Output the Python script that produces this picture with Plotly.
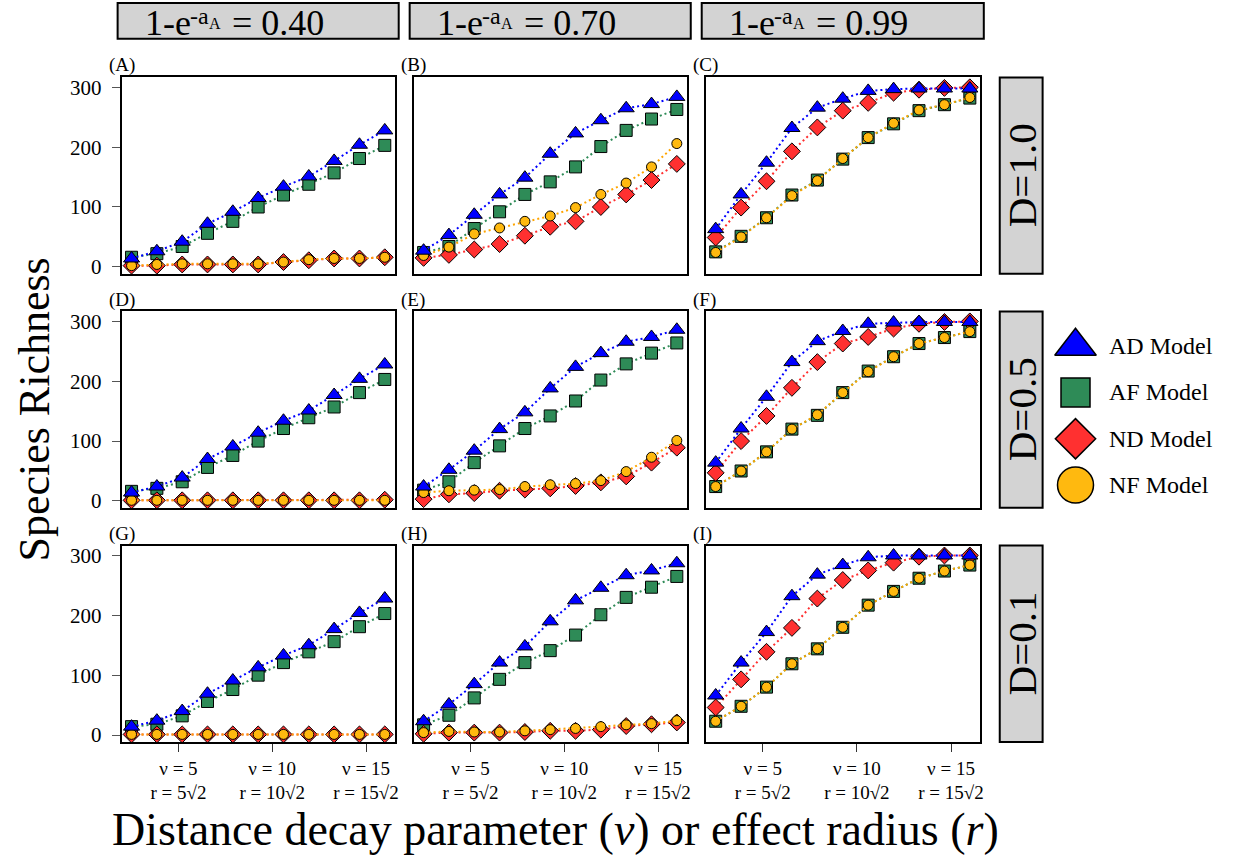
import plotly.graph_objects as go

W, H = 1234, 863

# ---------------- data ----------------
v_values = [2.5, 3.85, 5.2, 6.55, 7.9, 9.25, 10.6, 11.95, 13.3, 14.65, 16.0]
models = ["AD Model", "AF Model", "ND Model", "NF Model"]
survival_labels = ["0.40", "0.70", "0.99"]
dispersal_labels = ["1.0", "0.5", "0.1"]
panel_letters = ["A", "B", "C", "D", "E", "F", "G", "H", "I"]
x_tick_vals = [5, 10, 15]
x_tick_text = ["ν = 5<br>r = 5√2", "ν = 10<br>r = 10√2", "ν = 15<br>r = 15√2"]
y_tick_vals = [0, 100, 200, 300]

AD_A = [14, 26, 42, 72, 92, 115, 134, 151, 177, 204, 228]
AF_A = [16, 22, 34, 56, 76, 100, 120, 138, 157, 181, 203]
ND_A = [2, 2, 4, 4, 4, 4, 8, 11, 14, 14, 16]
NF_A = [2, 4, 5, 5, 5, 5, 8, 12, 14, 14, 16]

AD_B = [27, 53, 87, 121, 149, 189, 223, 245, 265, 272, 284]
AF_B = [24, 34, 64, 92, 121, 142, 167, 201, 228, 247, 263]
ND_B = [15, 20, 29, 38, 52, 67, 76, 100, 121, 145, 172]
NF_B = [19, 33, 55, 65, 76, 85, 99, 121, 140, 167, 206]

AD_C = [63, 121, 174, 232, 266, 281, 294, 297, 298, 298, 298]
AF_C = [25, 51, 82, 120, 145, 180, 216, 239, 261, 271, 282]
ND_C = [49, 99, 143, 193, 233, 261, 274, 291, 296, 299, 300]
NF_C = [24, 50, 82, 119, 144, 181, 216, 240, 262, 271, 283]

AD_D = [14, 24, 39, 70, 91, 114, 134, 151, 177, 204, 228]
AF_D = [16, 21, 32, 56, 76, 100, 121, 139, 157, 181, 203]
ND_D = [1, 1, 1, 1, 1, 1, 1, 1, 1, 1, 2]
NF_D = [1, 1, 1, 1, 1, 1, 1, 1, 1, 1, 1]

AD_E = [24, 52, 84, 120, 148, 188, 224, 247, 266, 274, 286]
AF_E = [18, 32, 64, 92, 121, 142, 167, 202, 229, 247, 264]
ND_E = [3, 11, 13, 17, 19, 21, 25, 31, 41, 64, 89]
NF_E = [14, 17, 18, 19, 24, 27, 29, 34, 49, 73, 101]

AD_F = [64, 121, 174, 232, 267, 284, 296, 298, 299, 299, 299]
AF_F = [24, 50, 82, 120, 143, 181, 217, 241, 263, 273, 283]
ND_F = [47, 100, 142, 189, 232, 263, 274, 288, 296, 299, 300]
NF_F = [24, 50, 82, 120, 144, 181, 216, 241, 263, 273, 283]

AD_G = [14, 24, 40, 69, 91, 113, 133, 150, 177, 204, 228]
AF_G = [14, 18, 32, 56, 76, 100, 121, 139, 156, 181, 203]
ND_G = [1, 1, 1, 1, 1, 1, 1, 1, 1, 1, 1]
NF_G = [1, 1, 1, 1, 1, 1, 1, 1, 1, 1, 1]

AD_H = [23, 51, 85, 121, 148, 190, 225, 246, 267, 275, 287]
AF_H = [17, 33, 62, 93, 121, 141, 167, 201, 230, 247, 265]
ND_H = [2, 4, 4, 4, 5, 7, 7, 9, 15, 18, 21]
NF_H = [4, 6, 5, 5, 7, 9, 11, 14, 17, 19, 24]

AD_I = [66, 121, 172, 232, 268, 284, 297, 300, 300, 300, 300]
AF_I = [23, 48, 80, 119, 144, 180, 217, 240, 262, 274, 284]
ND_I = [46, 93, 139, 179, 228, 259, 275, 288, 298, 300, 300]
NF_I = [23, 48, 80, 119, 144, 180, 217, 240, 262, 274, 284]

panels = [
    (AD_A, AF_A, ND_A, NF_A), (AD_B, AF_B, ND_B, NF_B), (AD_C, AF_C, ND_C, NF_C),
    (AD_D, AF_D, ND_D, NF_D), (AD_E, AF_E, ND_E, NF_E), (AD_F, AF_F, ND_F, NF_F),
    (AD_G, AF_G, ND_G, NF_G), (AD_H, AF_H, ND_H, NF_H), (AD_I, AF_I, ND_I, NF_I),
]

# ---------------- styles ----------------
style = {
    "AD Model": dict(symbol="triangle-up", fill="#0000FF", line="#0000FF", size=14, lsize=36),
    "AF Model": dict(symbol="square", fill="#2E8B57", line="#2E8B57", size=12, lsize=29),
    "ND Model": dict(symbol="diamond", fill="#FF3030", line="#FF3030", size=13, lsize=31),
    "NF Model": dict(symbol="circle", fill="#FFB90F", line="#FFA500", size=10, lsize=36),
}
draw_order = ["AF Model", "ND Model", "NF Model", "AD Model"]

SERIF = "Liberation Serif"

col_px = [(122, 396), (415, 689), (708, 983)]
row_px = [(76, 274), (312, 510), (548, 746)]


def px_x(p):
    return p / W


def px_y(p):
    return 1 - p / H


fig = go.Figure()
layout = dict(
    width=W, height=H, margin=dict(l=0, r=0, t=0, b=0),
    paper_bgcolor="white", plot_bgcolor="white", showlegend=False,
    font=dict(family=SERIF, color="black"),
)
annotations = []
shapes = []

for k in range(9):
    r, c = divmod(k, 3)
    suffix = "" if k == 0 else str(k + 1)
    xa, ya = "x" + suffix, "y" + suffix
    vals = dict(zip(models, panels[k]))
    for m in draw_order:
        s = style[m]
        fig.add_trace(go.Scatter(
            x=v_values, y=vals[m], mode="lines+markers", name=m,
            xaxis=xa, yaxis=ya, cliponaxis=False,
            line=dict(color=s["line"], width=2, dash="2px,3px"),
            marker=dict(symbol=s["symbol"], size=s["size"], color=s["fill"],
                        line=dict(color="black", width=1)),
        ))
    bottom = r == 2
    left = c == 0
    xdict = dict(
        domain=[px_x(col_px[c][0]), px_x(col_px[c][1])],
        anchor=ya, range=[1.97, 16.53], showgrid=False, zeroline=False,
        showline=True, mirror=True, linecolor="black", linewidth=2,
        tickvals=x_tick_vals, showticklabels=bottom,
        ticks="outside" if bottom else "",
        ticklen=8, tickwidth=1.2, tickcolor="#333333",
        tickfont=dict(family=SERIF, size=19, color="black"),
    )
    if bottom:
        xdict["ticktext"] = x_tick_text
    layout["xaxis" + suffix] = xdict
    layout["yaxis" + suffix] = dict(
        domain=[px_y(row_px[r][1]), px_y(row_px[r][0])],
        anchor=xa, range=[-11.6, 316.6], showgrid=False, zeroline=False,
        showline=True, mirror=True, linecolor="black", linewidth=2,
        tickvals=y_tick_vals, showticklabels=left,
        ticks="outside" if left else "", ticklen=8, tickwidth=1.2,
        tickcolor="#555555", ticklabelstandoff=6,
        tickfont=dict(family=SERIF, size=21, color="black"),
    )
    annotations.append(dict(
        text="(" + panel_letters[k] + ")", xref="paper", yref="paper",
        x=px_x(col_px[c][0] - 15), y=px_y(row_px[r][0] - 12),
        xanchor="left", yanchor="middle", showarrow=False,
        font=dict(family=SERIF, size=19, color="black"),
    ))


def top_text(text, x_px, top_px, size):
    return dict(text=text, xref="paper", yref="paper", x=px_x(x_px), y=px_y(top_px),
                xanchor="left", yanchor="top", showarrow=False, borderpad=0,
                font=dict(family=SERIF, size=size, color="black"))


# top strips: 1-e^(-a_A) = value, built from pieces so the exponent sits high
for c in range(3):
    x0, x1 = col_px[c][0] - 4, col_px[c][1] + 4
    shapes.append(dict(type="rect", xref="paper", yref="paper",
                       x0=px_x(x0), x1=px_x(x1), y0=px_y(37), y1=px_y(1),
                       fillcolor="#D3D3D3", line=dict(color="black", width=2)))
    t0 = x0 + 26
    annotations.append(top_text("1-e", t0, 0, 36))
    annotations.append(top_text("-a", t0 + 46, 0, 24))
    annotations.append(top_text("A", t0 + 65, 12, 16))
    annotations.append(top_text("= " + survival_labels[c], t0 + 88, 0, 36))

# right strips
for r in range(3):
    shapes.append(dict(type="rect", xref="paper", yref="paper",
                       x0=px_x(1003), x1=px_x(1046),
                       y0=px_y(row_px[r][1]), y1=px_y(row_px[r][0]),
                       fillcolor="#D3D3D3", line=dict(color="black", width=2)))
    annotations.append(dict(
        text="D=" + dispersal_labels[r], textangle=-90,
        xref="paper", yref="paper", x=px_x(1025),
        y=px_y((row_px[r][0] + row_px[r][1]) / 2),
        xanchor="center", yanchor="middle", showarrow=False,
        font=dict(family=SERIF, size=41, color="black"),
    ))

# axis titles
annotations.append(dict(
    text="Species Richness", textangle=-90, xref="paper", yref="paper",
    x=px_x(35), y=px_y(411), xanchor="center", yanchor="middle", showarrow=False,
    font=dict(family=SERIF, size=44, color="black"),
))
annotations.append(dict(
    text="Distance decay parameter (<i>v</i>) or effect radius (<i>r</i>)",
    xref="paper", yref="paper", x=px_x(557), y=px_y(861),
    xanchor="center", yanchor="bottom", showarrow=False, borderpad=0,
    font=dict(family=SERIF, size=46, color="black"),
))

# legend panel (own small axis)
for i, m in enumerate(models):
    s = style[m]
    fig.add_trace(go.Scatter(
        x=[0], y=[m], mode="markers", xaxis="x10", yaxis="y10",
        cliponaxis=False, hoverinfo="skip",
        marker=dict(symbol=s["symbol"], size=s["lsize"], color=s["fill"],
                    line=dict(color="black", width=1.5)),
    ))
    annotations.append(dict(
        text=m, xref="paper", yref="y10", x=px_x(1111), y=i,
        xanchor="left", yanchor="middle", showarrow=False,
        font=dict(family=SERIF, size=24, color="black"),
    ))
layout["xaxis10"] = dict(domain=[px_x(1059), px_x(1099)], range=[-1, 1],
                         visible=False, anchor="y10")
layout["yaxis10"] = dict(domain=[px_y(510.3), px_y(323.7)], range=[3.5, -0.5],
                         type="category", categoryorder="array",
                         categoryarray=models, visible=False, anchor="x10")

layout["annotations"] = annotations
layout["shapes"] = shapes
fig.update_layout(**layout)
fig.write_html("out.html")
